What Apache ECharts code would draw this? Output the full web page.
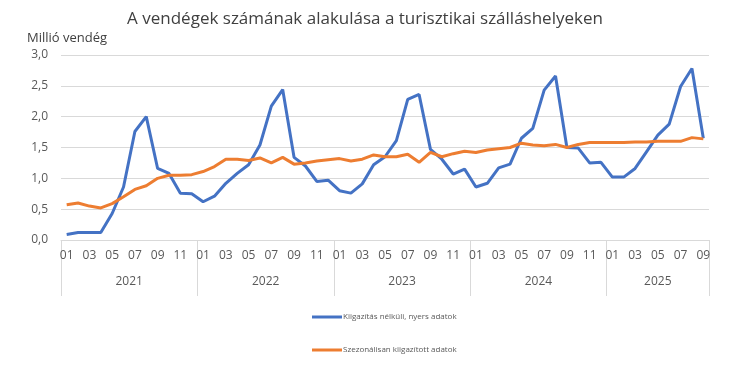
<!DOCTYPE html>
<html>
<head>
<meta charset="utf-8">
<script src="https://cdn.jsdelivr.net/npm/echarts@6/dist/echarts.min.js"></script>
<style>
html,body{margin:0;padding:0;background:#fff;}
#chart{width:730px;height:385px;}
</style>
</head>
<body>
<div id="chart"></div>
<script>
var monthLabels = [
  '01','02','03','04','05','06','07','08','09','10','11','12',
  '01','02','03','04','05','06','07','08','09','10','11','12',
  '01','02','03','04','05','06','07','08','09','10','11','12',
  '01','02','03','04','05','06','07','08','09','10','11','12',
  '01','02','03','04','05','06','07','08','09'
];
var yearLabels = ['2021','2022','2023','2024','2025'];
var yearBoundaries = [0, 12, 24, 36, 48, 57];
var yearCenters = [6, 18, 30, 42, 52.5];
var yTicks = [0, 0.5, 1, 1.5, 2, 2.5, 3];

var seriesNames = ['Kiigazítás nélküli, nyers adatok', 'Szezonálisan kiigazított adatok'];
var rawValues = [
  0.09, 0.12, 0.12, 0.12, 0.43, 0.86, 1.76, 2.00, 1.16, 1.08, 0.76, 0.75,
  0.62, 0.71, 0.92, 1.08, 1.22, 1.54, 2.17, 2.44, 1.34, 1.20, 0.95, 0.97,
  0.80, 0.76, 0.91, 1.22, 1.35, 1.61, 2.28, 2.36, 1.47, 1.31, 1.07, 1.15,
  0.86, 0.92, 1.17, 1.23, 1.65, 1.81, 2.43, 2.66, 1.50, 1.49, 1.25, 1.26,
  1.02, 1.02, 1.16, 1.43, 1.70, 1.88, 2.49, 2.78, 1.65
];
var adjustedValues = [
  0.57, 0.60, 0.55, 0.52, 0.59, 0.70, 0.82, 0.88, 1.00, 1.05, 1.05, 1.06,
  1.11, 1.19, 1.31, 1.31, 1.29, 1.33, 1.25, 1.34, 1.23, 1.25, 1.28, 1.30,
  1.32, 1.28, 1.31, 1.38, 1.35, 1.35, 1.39, 1.26, 1.42, 1.35, 1.40, 1.44,
  1.42, 1.46, 1.48, 1.50, 1.57, 1.54, 1.53, 1.55, 1.50, 1.55, 1.58, 1.58,
  1.58, 1.58, 1.59, 1.59, 1.60, 1.60, 1.60, 1.66, 1.64
];

var chart = echarts.init(document.getElementById('chart'), null, {renderer: 'canvas'});
var FONT = '"Open Sans", "Noto Sans", sans-serif';
var gray = '#595959';
var lineGray = '#d9d9d9';

chart.setOption({
  animation: false,
  textStyle: {fontFamily: FONT},
  title: {
    text: 'A vendégek számának alakulása a turisztikai szálláshelyeken',
    left: 'center',
    top: 6,
    textStyle: {fontSize: 17, fontWeight: 'normal', color: '#404040', fontFamily: FONT}
  },
  grid: {left: 61, right: 21, top: 55, bottom: 145},
  legend: {
    orient: 'vertical',
    left: 307,
    top: 308,
    itemWidth: 30,
    itemHeight: 3,
    itemGap: 25,
    icon: 'rect',
    textStyle: {fontSize: 8, color: gray, fontFamily: FONT, padding: [0, 0, 0, -4]},
    data: seriesNames
  },
  xAxis: [
    {
      type: 'category',
      data: monthLabels,
      boundaryGap: true,
      axisLine: {show: true, lineStyle: {color: lineGray, width: 1}},
      axisTick: {show: false},
      axisLabel: {interval: 1, color: gray, fontSize: 12, margin: 10, fontFamily: FONT}
    },
    {
      type: 'value',
      min: 0,
      max: 57,
      position: 'bottom',
      axisLine: {show: false},
      splitLine: {show: false},
      axisTick: {show: true, customValues: yearBoundaries, length: 56, lineStyle: {color: lineGray, width: 1}},
      axisLabel: {
        customValues: yearCenters,
        color: gray,
        fontSize: 12,
        margin: 36,
        fontFamily: FONT,
        formatter: function (v) {
          var i = yearCenters.indexOf(v);
          return i >= 0 ? yearLabels[i] : '';
        }
      }
    }
  ],
  yAxis: {
    type: 'value',
    min: yTicks[0],
    max: yTicks[yTicks.length - 1],
    interval: 0.5,
    name: 'Millió vendég',
    nameLocation: 'end',
    nameGap: 10,
    nameTextStyle: {color: '#404040', fontSize: 13, align: 'left', padding: [0, 0, 0, -34], fontFamily: FONT},
    axisLine: {show: false},
    axisTick: {show: false},
    splitLine: {lineStyle: {color: lineGray, width: 1}},
    axisLabel: {
      color: gray, fontSize: 12, margin: 13, fontFamily: FONT,
      formatter: function (v) { return v.toFixed(1).replace('.', ','); }
    }
  },
  series: [
    {
      name: seriesNames[0],
      type: 'line',
      data: rawValues,
      xAxisIndex: 0,
      symbol: 'none',
      lineStyle: {color: '#4472C4', width: 3},
      itemStyle: {color: '#4472C4'}
    },
    {
      name: seriesNames[1],
      type: 'line',
      data: adjustedValues,
      xAxisIndex: 0,
      symbol: 'none',
      lineStyle: {color: '#ED7D31', width: 3},
      itemStyle: {color: '#ED7D31'}
    }
  ]
});
</script>
</body>
</html>
